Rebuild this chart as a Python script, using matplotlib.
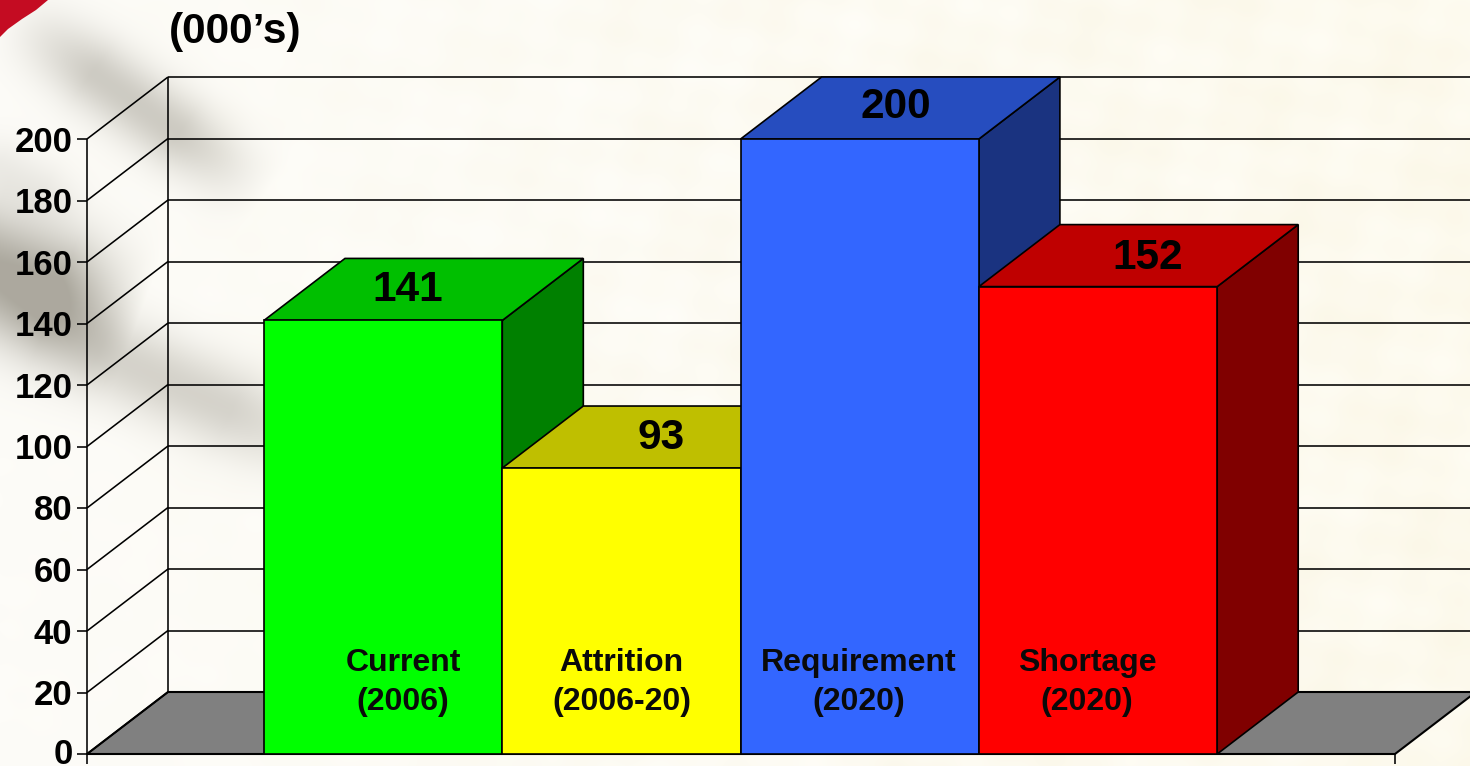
#!/usr/bin/env python3
import matplotlib
matplotlib.use("Agg")
import matplotlib.pyplot as plt
import numpy as np
from matplotlib.patches import Polygon

categories = ["Current\n(2006)", "Attrition\n(2006-20)", "Requirement\n(2020)", "Shortage\n(2020)"]
values = [141, 93, 200, 152]
yticks = [0, 20, 40, 60, 80, 100, 120, 140, 160, 180, 200]
front_colors = ["#00ff00", "#ffff00", "#3366ff", "#ff0000"]
top_colors = ["#00bf00", "#bfbf00", "#264dbf", "#bf0000"]
side_colors = ["#008000", "#808000", "#1a3380", "#800000"]
unit_title = "(000\u2019s)"

W, H = 1470, 766
PX_PER_UNIT = 3.075       # vertical px per value unit
BAR_PX = 238.3            # bar width in px
X0_PX, Y0_PX = 264, 754   # first bar left edge, baseline
DX = 81 / BAR_PX          # depth offset, in bar widths
DY = 62 / PX_PER_UNIT     # depth offset, in value units
AXIS_X = (87 - X0_PX) / BAR_PX
FLOOR_END = (1395 - X0_PX) / BAR_PX

# label nudges relative to the bar centre, px
value_dx = [25, 40, 36, 50]
value_dy = [35, 35, 36, 33]
cat_dx = [20, 0, -1, -11]
FONT = ["Liberation Sans", "DejaVu Sans"]


def background():
    """Faded flag behind the chart: cream paper, soft grey folds, red corner."""
    yy, xx = np.mgrid[0:H, 0:W].astype(float)
    img = np.ones((H, W, 3)) * np.array([0.992, 0.988, 0.972])
    # paper gets yellower to the right, with a slow mottling
    t = np.clip(xx / W, 0, 1)[..., None]
    img = img * (1 - t) + np.array([0.992, 0.98, 0.93]) * t
    mott = (np.sin(xx / 37 + yy / 53) * np.sin(xx / 71 - yy / 29)
            + 0.6 * np.sin(xx / 13 - yy / 17) * np.sin(yy / 11 + xx / 23))[..., None]
    img += mott * np.array([0.004, 0.006, 0.014]) * np.clip(t * 2, 0.1, 1)

    # fold = (x0, y0, x1, y1, half width, darkness)
    folds = [(40, 35, 230, 170, 36, 0.50),
             (-70, 245, 105, 310, 58, 0.85),
             (20, 315, 310, 445, 42, 0.42),
             (-30, 150, 70, 205, 30, 0.14)]
    shade = np.zeros((H, W))
    for x0, y0, x1, y1, w, dark in folds:
        dx, dy = x1 - x0, y1 - y0
        ln = np.hypot(dx, dy)
        s = ((xx - x0) * dx + (yy - y0) * dy) / ln ** 2
        d = ((xx - x0) * dy - (yy - y0) * dx) / ln
        along = np.clip(1.5 - np.abs(s - 0.5) * 2.2, 0, 1)
        shade += dark * along * np.exp(-(d / w) ** 2)
    shade = np.clip(shade, 0, 0.85)[..., None]
    img = img * (1 - shade) + np.array([0.62, 0.605, 0.56]) * shade
    return np.clip(img, 0, 1)


fig = plt.figure(figsize=(W / 100, H / 100), dpi=100)
bg = fig.add_axes([0, 0, 1, 1], zorder=0)
bg.imshow(background(), aspect="auto", extent=[0, W, H, 0], interpolation="bilinear")
bg.add_patch(Polygon([(0, 0), (48, 0), (36, 10), (22, 19), (8, 29), (0, 37)], closed=True,
                     fc="#c40c22", ec="none"))
bg.set_xlim(0, W)
bg.set_ylim(H, 0)
bg.axis("off")

ax = fig.add_axes([0, 0, 1, 1], zorder=1)
ax.patch.set_alpha(0)
ax.set_xlim(-X0_PX / BAR_PX, (W - X0_PX) / BAR_PX)
ax.set_ylim(-(H - Y0_PX) / PX_PER_UNIT, Y0_PX / PX_PER_UNIT)
ax.axis("off")

LINE = dict(color="black", lw=1.15, solid_capstyle="butt")
RIGHT = FLOOR_END + DX

# floor
ax.add_patch(Polygon([(AXIS_X, 0), (FLOOR_END, 0), (RIGHT, DY), (AXIS_X + DX, DY)],
                     closed=True, fc="#808080", ec="black", lw=1.5, zorder=1))
# walls + grid
for v in yticks:
    ax.plot([AXIS_X, AXIS_X + DX], [v, v + DY], zorder=2, **LINE)
    ax.plot([AXIS_X + DX, RIGHT], [v + DY, v + DY], zorder=2, **LINE)
    ax.plot([AXIS_X - 10 / BAR_PX, AXIS_X], [v, v], zorder=2, **LINE)
    nudge = 3 if v == 0 else 0.5   # keep the 0 inside the canvas
    ax.text(AXIS_X - 14.5 / BAR_PX, v + nudge / PX_PER_UNIT, str(v), ha="right", va="center_baseline",
            fontsize=25, fontweight="bold", family=FONT, zorder=6)
ax.plot([AXIS_X, AXIS_X], [-10 / PX_PER_UNIT, yticks[-1]], zorder=2, **LINE)
ax.plot([AXIS_X + DX, AXIS_X + DX], [DY, yticks[-1] + DY], zorder=2, **LINE)
ax.plot([FLOOR_END, FLOOR_END], [-10 / PX_PER_UNIT, 0], zorder=2, **LINE)

# bars, left to right so later ones sit over earlier sides
for i, v in enumerate(values):
    z = 3 + i * 0.1
    edge = dict(ec="black", lw=1.2, closed=True, zorder=z, joinstyle="miter")
    ax.add_patch(Polygon([(i + 1, 0), (i + 1 + DX, DY), (i + 1 + DX, v + DY), (i + 1, v)],
                         fc=side_colors[i], **edge))
    ax.add_patch(Polygon([(i, v), (i + 1, v), (i + 1 + DX, v + DY), (i + DX, v + DY)],
                         fc=top_colors[i], **edge))
    ax.bar(i, v, width=1, align="edge", color=front_colors[i], edgecolor="black", lw=1.2, zorder=z)

for i, v in enumerate(values):
    ax.text(i + 0.5 + value_dx[i] / BAR_PX, v + value_dy[i] / PX_PER_UNIT, str(v), ha="center",
            va="center_baseline", fontsize=30.5, fontweight="bold", family=FONT, zorder=6)
    ax.text(i + 0.5 + cat_dx[i] / BAR_PX, 71.5 / PX_PER_UNIT, categories[i], ha="center", va="center",
            fontsize=23, fontweight="bold", family=FONT, linespacing=1.38, color="#0a0a0a", zorder=6)

fig.text(169 / W, 1 - 32 / H, unit_title, ha="left", va="center", fontsize=30.5,
         fontweight="bold", family=FONT, zorder=6)

fig.savefig("out.png", dpi=100)
